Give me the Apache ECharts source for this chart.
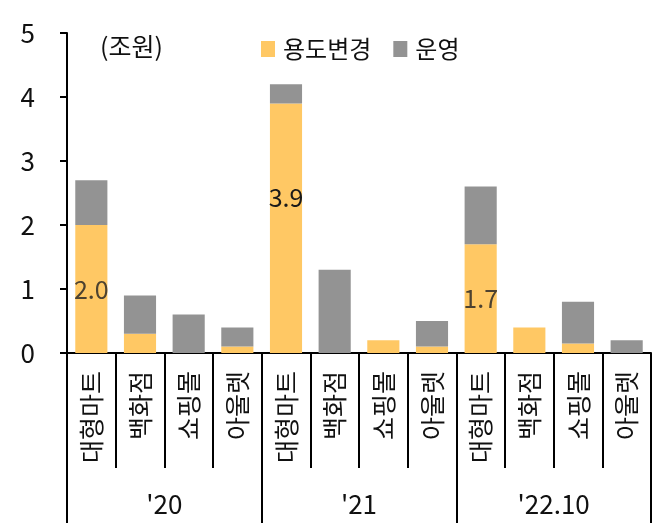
<!DOCTYPE html>
<html>
<head>
<meta charset="utf-8">
<script src="https://cdn.jsdelivr.net/npm/echarts@6/dist/echarts.min.js"></script>
<style>
  html, body { margin: 0; padding: 0; background: #fff; }
  #chart { width: 662px; height: 528px; }
</style>
</head>
<body>
<div id="chart"></div>
<script>
// 단위: 조원
var categories = ['대형마트', '백화점', '쇼핑몰', '아울렛',
                  '대형마트', '백화점', '쇼핑몰', '아울렛',
                  '대형마트', '백화점', '쇼핑몰', '아울렛'];
var groups = ["'20", "'21", "'22.10"];
var conversion = [2.0, 0.3, 0, 0.1, 3.9, 0, 0.2, 0.1, 1.7, 0.4, 0.15, 0];
var operation = [0.7, 0.6, 0.6, 0.3, 0.3, 1.3, 0, 0.4, 0.9, 0, 0.65, 0.2];
var labelled = [0, 4, 8];
var yTicks = [0, 1, 2, 3, 4, 5];

var FONT = 'Noto Sans CJK KR';
var YELLOW = '#FFC864';
var GREY = '#939393';

var chart = echarts.init(document.getElementById('chart'));

var conversionData = conversion.map(function (v, i) {
  var item = { value: v };
  if (labelled.indexOf(i) >= 0) {
    item.label = {
      show: true,
      position: 'inside',
      color: i === 4 ? '#1a1a1a' : '#4d4230',
      offset: i === 4 ? [0, -31] : [0, 0]
    };
  }
  return item;
});

chart.setOption({
  animation: false,
  textStyle: { fontFamily: FONT },
  grid: { left: 67, right: 11, top: 33, bottom: 175 },
  legend: {
    left: 256,
    top: 32,
    itemWidth: 14,
    itemHeight: 16,
    itemGap: 22,
    icon: 'rect',
    textStyle: { fontSize: 24, color: '#111', fontFamily: FONT, padding: [0, 0, 0, 3] },
    data: ['용도변경', '운영']
  },
  graphic: [{
    type: 'text',
    left: 100,
    top: 34,
    style: { text: '(조원)', fontSize: 25, fill: '#111', fontFamily: FONT }
  }],
  xAxis: [{
    type: 'category',
    data: categories,
    position: 'bottom',
    axisLine: { show: true, lineStyle: { color: '#000', width: 2 } },
    axisTick: { show: true, interval: 0, length: 115, lineStyle: { color: '#000', width: 2 } },
    axisLabel: {
      interval: 0, rotate: 90, margin: 18,
      fontSize: 25, color: '#111', fontFamily: FONT
    }
  }, {
    type: 'category',
    data: groups,
    position: 'bottom',
    axisLine: { show: false },
    axisTick: { show: true, interval: 0, length: 170, lineStyle: { color: '#000', width: 2 } },
    axisLabel: { interval: 0, margin: 138, fontSize: 26, color: '#111', fontFamily: FONT }
  }],
  yAxis: {
    type: 'value',
    min: yTicks[0],
    max: yTicks[yTicks.length - 1],
    interval: 1,
    axisLine: { show: true, lineStyle: { color: '#000', width: 2 } },
    axisTick: { show: true, length: 7, lineStyle: { color: '#000', width: 2 } },
    splitLine: { show: false },
    axisLabel: { margin: 32, fontSize: 26, color: '#111', fontFamily: FONT }
  },
  series: [{
    name: '용도변경',
    type: 'bar',
    stack: 'total',
    barCategoryGap: '34%',
    itemStyle: { color: YELLOW },
    label: { show: false, fontSize: 25, fontFamily: FONT, formatter: function (p) { return p.value.toFixed(1); } },
    data: conversionData
  }, {
    name: '운영',
    type: 'bar',
    stack: 'total',
    barCategoryGap: '34%',
    itemStyle: { color: GREY },
    data: operation
  }]
});
</script>
</body>
</html>
